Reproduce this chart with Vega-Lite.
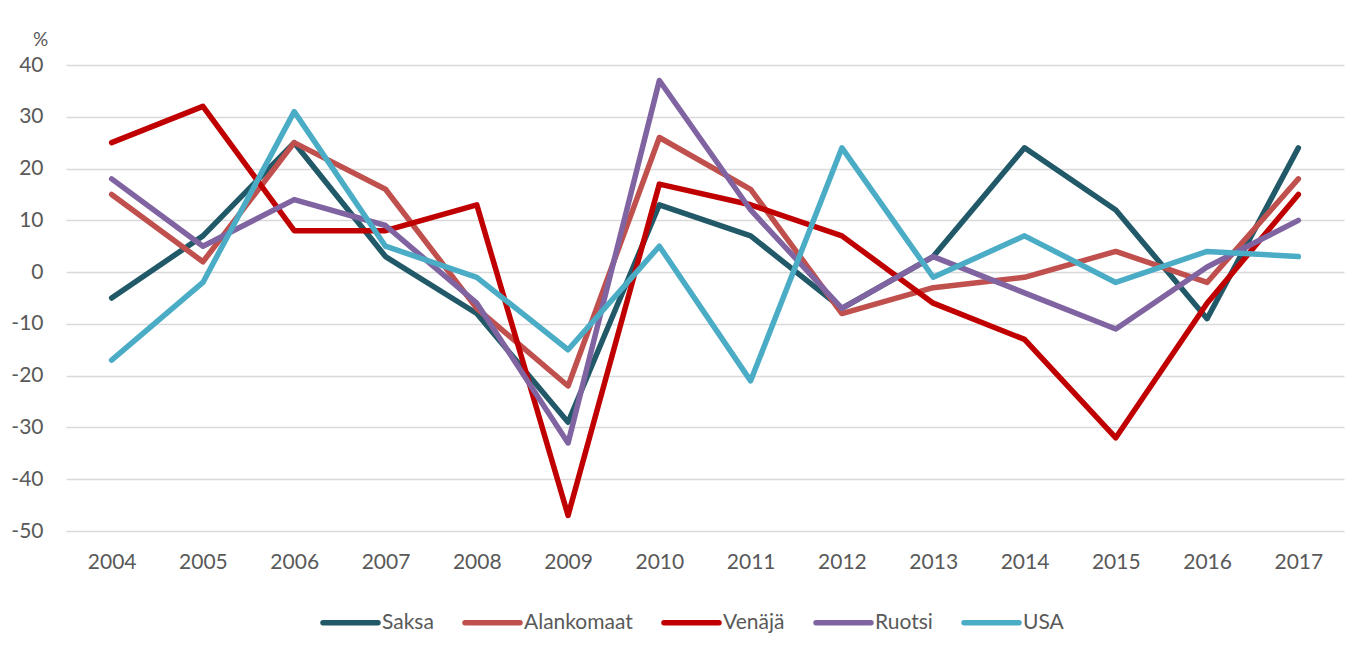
{
  "$schema": "https://vega.github.io/schema/vega-lite/v6.json",
  "autosize": "none",
  "width": 1278,
  "height": 466,
  "padding": {"left": 66, "top": 65, "right": 27, "bottom": 119},
  "background": "white",
  "config": {"view": {"stroke": null}, "font": "Lato"},
  "data": {"values": [
    {"year": "2004", "series": "Saksa", "value": -5},
    {"year": "2005", "series": "Saksa", "value": 7},
    {"year": "2006", "series": "Saksa", "value": 25},
    {"year": "2007", "series": "Saksa", "value": 3},
    {"year": "2008", "series": "Saksa", "value": -8},
    {"year": "2009", "series": "Saksa", "value": -29},
    {"year": "2010", "series": "Saksa", "value": 13},
    {"year": "2011", "series": "Saksa", "value": 7},
    {"year": "2012", "series": "Saksa", "value": -7},
    {"year": "2013", "series": "Saksa", "value": 3},
    {"year": "2014", "series": "Saksa", "value": 24},
    {"year": "2015", "series": "Saksa", "value": 12},
    {"year": "2016", "series": "Saksa", "value": -9},
    {"year": "2017", "series": "Saksa", "value": 24},
    {"year": "2004", "series": "Alankomaat", "value": 15},
    {"year": "2005", "series": "Alankomaat", "value": 2},
    {"year": "2006", "series": "Alankomaat", "value": 25},
    {"year": "2007", "series": "Alankomaat", "value": 16},
    {"year": "2008", "series": "Alankomaat", "value": -7},
    {"year": "2009", "series": "Alankomaat", "value": -22},
    {"year": "2010", "series": "Alankomaat", "value": 26},
    {"year": "2011", "series": "Alankomaat", "value": 16},
    {"year": "2012", "series": "Alankomaat", "value": -8},
    {"year": "2013", "series": "Alankomaat", "value": -3},
    {"year": "2014", "series": "Alankomaat", "value": -1},
    {"year": "2015", "series": "Alankomaat", "value": 4},
    {"year": "2016", "series": "Alankomaat", "value": -2},
    {"year": "2017", "series": "Alankomaat", "value": 18},
    {"year": "2004", "series": "Venäjä", "value": 25},
    {"year": "2005", "series": "Venäjä", "value": 32},
    {"year": "2006", "series": "Venäjä", "value": 8},
    {"year": "2007", "series": "Venäjä", "value": 8},
    {"year": "2008", "series": "Venäjä", "value": 13},
    {"year": "2009", "series": "Venäjä", "value": -47},
    {"year": "2010", "series": "Venäjä", "value": 17},
    {"year": "2011", "series": "Venäjä", "value": 13},
    {"year": "2012", "series": "Venäjä", "value": 7},
    {"year": "2013", "series": "Venäjä", "value": -6},
    {"year": "2014", "series": "Venäjä", "value": -13},
    {"year": "2015", "series": "Venäjä", "value": -32},
    {"year": "2016", "series": "Venäjä", "value": -6},
    {"year": "2017", "series": "Venäjä", "value": 15},
    {"year": "2004", "series": "Ruotsi", "value": 18},
    {"year": "2005", "series": "Ruotsi", "value": 5},
    {"year": "2006", "series": "Ruotsi", "value": 14},
    {"year": "2007", "series": "Ruotsi", "value": 9},
    {"year": "2008", "series": "Ruotsi", "value": -6},
    {"year": "2009", "series": "Ruotsi", "value": -33},
    {"year": "2010", "series": "Ruotsi", "value": 37},
    {"year": "2011", "series": "Ruotsi", "value": 12},
    {"year": "2012", "series": "Ruotsi", "value": -7},
    {"year": "2013", "series": "Ruotsi", "value": 3},
    {"year": "2014", "series": "Ruotsi", "value": -4},
    {"year": "2015", "series": "Ruotsi", "value": -11},
    {"year": "2016", "series": "Ruotsi", "value": 1},
    {"year": "2017", "series": "Ruotsi", "value": 10},
    {"year": "2004", "series": "USA", "value": -17},
    {"year": "2005", "series": "USA", "value": -2},
    {"year": "2006", "series": "USA", "value": 31},
    {"year": "2007", "series": "USA", "value": 5},
    {"year": "2008", "series": "USA", "value": -1},
    {"year": "2009", "series": "USA", "value": -15},
    {"year": "2010", "series": "USA", "value": 5},
    {"year": "2011", "series": "USA", "value": -21},
    {"year": "2012", "series": "USA", "value": 24},
    {"year": "2013", "series": "USA", "value": -1},
    {"year": "2014", "series": "USA", "value": 7},
    {"year": "2015", "series": "USA", "value": -2},
    {"year": "2016", "series": "USA", "value": 4},
    {"year": "2017", "series": "USA", "value": 3}
  ]},
  "mark": {"type": "line", "strokeWidth": 5.5, "strokeCap": "round", "strokeJoin": "round"},
  "encoding": {
    "x": {
      "field": "year", "type": "ordinal",
      "scale": {"type": "point", "padding": 0.5},
      "axis": {
        "title": null, "labelAngle": 0, "domain": false, "ticks": false, "grid": false,
        "labelFontSize": 21, "labelColor": "#595959", "labelPadding": 20
      }
    },
    "y": {
      "field": "value", "type": "quantitative",
      "scale": {"domain": [-50, 40], "nice": false, "zero": false},
      "axis": {
        "values": [-50, -40, -30, -20, -10, 0, 10, 20, 30, 40],
        "labelExpr": "datum.value + ''",
        "title": "%", "titleAngle": 0, "titleX": -26, "titleY": -26,
        "titleAlign": "center", "titleBaseline": "middle",
        "titleFontSize": 19, "titleFontWeight": "normal", "titleColor": "#595959",
        "domain": false, "ticks": false,
        "grid": true, "gridColor": "#D9D9D9", "gridWidth": 1.3,
        "labelFontSize": 21, "labelColor": "#595959", "labelPadding": 23
      }
    },
    "color": {
      "field": "series", "type": "nominal",
      "scale": {
        "domain": ["Saksa", "Alankomaat", "Venäjä", "Ruotsi", "USA"],
        "range": ["#215968", "#C0504D", "#C00000", "#8064A2", "#4BACC6"]
      },
      "legend": {
        "title": null, "orient": "none", "direction": "horizontal",
        "legendX": 254, "legendY": 527,
        "symbolType": "stroke", "symbolSize": 3025, "symbolStrokeWidth": 5.5,
        "labelFontSize": 21, "labelColor": "#595959", "labelOffset": 1,
        "columnPadding": 20,
        "encode": {"symbols": {"update": {"strokeCap": {"value": "round"}}}}
      }
    }
  }
}
